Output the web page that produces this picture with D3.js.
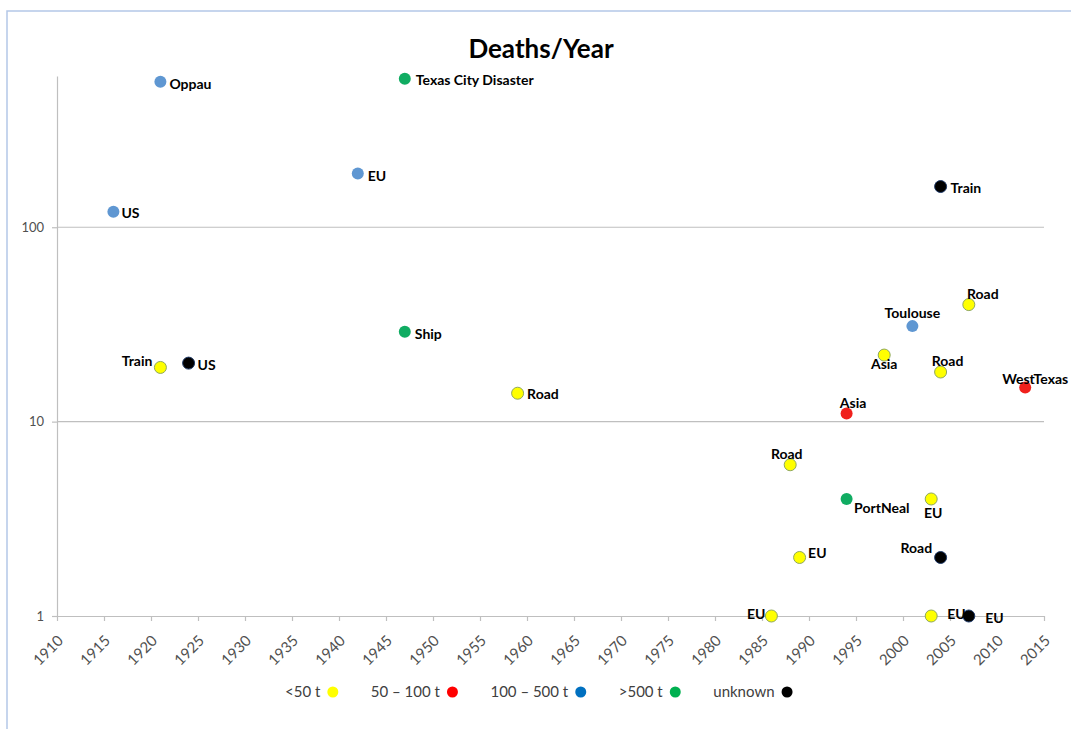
<!DOCTYPE html>
<html>
<head>
<meta charset="utf-8">
<script src="https://cdn.jsdelivr.net/npm/d3@7"></script>
<style>
  body { margin: 0; background: #fff; }
  text { font-family: "Lato", "DejaVu Sans", sans-serif; }
</style>
</head>
<body>
<div id="chart"></div>
<script>
// ---- data ----
const years  = [1916, 1921, 1942, 1947, 2004, 1921, 1924, 1947, 1959, 2001, 2007, 1998,
                2004, 2013, 1994, 1988, 1994, 2003, 1989, 2004, 1986, 2003, 2007];
const deaths = [120, 561, 189, 581, 162, 19, 20, 29, 14, 31, 40, 22,
                18, 15, 11, 6, 4, 4, 2, 2, 1, 1, 1];
const sizeClass = ["100-500", "100-500", "100-500", ">500", "unknown", "<50", "unknown", ">500",
                   "<50", "100-500", "<50", "<50", "<50", "50-100", "50-100", "<50", ">500",
                   "<50", "<50", "unknown", "<50", "<50", "unknown"];
const names  = ["US", "Oppau", "EU", "Texas City Disaster", "Train", "Train", "US", "Ship",
                "Road", "Toulouse", "Road", "Asia", "Road", "WestTexas", "Asia", "Road",
                "PortNeal", "EU", "EU", "Road", "EU", "EU", "EU"];

const legendKeys   = ["<50", "50-100", "100-500", ">500", "unknown"];
const legendLabels = ["<50 t", "50 \u2013 100 t", "100 \u2013 500 t", ">500 t", "unknown"];
const xTicks = d3.range(1910, 2016, 5);
const yTicks = [1, 10, 100];

// ---- layout ----
const svgWidth = 1071;
const svgHeight = 729;

// label placement next to each dot: [dx, dy, anchor]
const labelPlace = [
  [8, 1, "start"], [9, 2, "start"], [10, 2, "start"], [11, 1, "start"], [10, 1, "start"],
  [-8, -6, "end"], [9, 1.5, "start"], [10, 2, "start"], [9.5, 1, "start"], [0, -13, "middle"],
  [14, -11, "middle"], [0, 9, "middle"], [7, -11, "middle"], [10, -8.5, "middle"],
  [6.5, -10.5, "middle"], [-3.5, -10.5, "middle"], [7.5, 8.5, "start"], [2, 14, "middle"],
  [8.5, -5, "start"], [-8.5, -9.5, "end"], [-6, -2, "end"], [16, -2, "start"], [16.5, 1.5, "start"]
];

// dot styles per size class
const fills   = { "<50": "#ffff00", "50-100": "#f0201c", "100-500": "#5f97d2", ">500": "#10ac62", "unknown": "#000000" };
const strokes = { "<50": "#8fa85c", "50-100": "none", "100-500": "none", ">500": "none", "unknown": "#1f3a68" };
const legendFills = { "<50": "#ffff00", "50-100": "#ff0000", "100-500": "#0070c0", ">500": "#00b050", "unknown": "#000000" };

const svg = d3.select("#chart")
  .append("svg")
  .attr("width", svgWidth)
  .attr("height", svgHeight);

// outer chart frame
svg.append("rect")
  .attr("x", 7)
  .attr("y", 11)
  .attr("width", 1200)
  .attr("height", 900)
  .attr("fill", "none")
  .attr("stroke", "#b4c7e7")
  .attr("stroke-width", 1.5);

// scales
const x = d3.scaleLinear()
  .domain([1910, 2015])
  .range([57, 1044]);

const y = d3.scaleLog()
  .domain([1, 600])
  .range([616, 76]);

// gridlines
svg.append("g")
  .selectAll("line")
  .data([10, 100])
  .enter()
  .append("line")
  .attr("x1", x(1910))
  .attr("x2", x(2015))
  .attr("y1", d => y(d))
  .attr("y2", d => y(d))
  .attr("stroke", "#bfbfbf")
  .attr("stroke-width", 1.2);

// y axis
const yAxis = svg.append("g")
  .attr("transform", `translate(${x(1910)}, 0)`)
  .call(d3.axisLeft(y).tickValues(yTicks).tickFormat(d3.format("d")).tickSize(5).tickSizeOuter(0).tickPadding(8));

// x axis
const xAxis = svg.append("g")
  .attr("transform", `translate(0, ${y(1)})`)
  .call(d3.axisBottom(x).tickValues(xTicks).tickFormat(d3.format("d")).tickSize(5).tickSizeOuter(0));

[yAxis, xAxis].forEach(ax => {
  ax.attr("font-family", null).attr("font-size", null);
  ax.select(".domain").attr("stroke", "#bfbfbf").attr("stroke-width", 1.2);
  ax.selectAll(".tick line").attr("stroke", "#bfbfbf").attr("stroke-width", 1.2);
  ax.selectAll(".tick text")
    .attr("fill", "#505050")
    .style("font-size", "13px");
});

xAxis.selectAll(".tick text")
  .attr("y", 0)
  .attr("dy", "0.35em")
  .attr("text-anchor", "end")
  .style("font-size", "15px")
  .attr("transform", "translate(3, 22) rotate(-45)");

// title
svg.append("text")
  .attr("x", 541)
  .attr("y", 58)
  .attr("text-anchor", "middle")
  .style("font-size", "26px")
  .style("font-weight", "bold")
  .attr("fill", "#000")
  .text("Deaths/Year");

// points
const points = years.map((yr, i) => ({
  year: yr, deaths: deaths[i], cls: sizeClass[i], name: names[i], place: labelPlace[i]
}));

svg.append("g")
  .selectAll("circle")
  .data(points)
  .enter()
  .append("circle")
  .attr("cx", d => x(d.year))
  .attr("cy", d => y(d.deaths))
  .attr("r", 6)
  .attr("fill", d => fills[d.cls])
  .attr("stroke", d => strokes[d.cls])
  .attr("stroke-width", 1);

svg.append("g")
  .selectAll("text")
  .data(points)
  .enter()
  .append("text")
  .attr("x", d => x(d.year) + d.place[0])
  .attr("y", d => y(d.deaths) + d.place[1])
  .attr("dy", "0.36em")
  .attr("text-anchor", d => d.place[2])
  .style("font-size", "14px")
  .style("font-weight", "bold")
  .attr("fill", "#000")
  .text(d => d.name);

// legend
const legend = svg.append("g").attr("transform", "translate(0, 692)");
let lx = 285;
legendKeys.forEach((k, i) => {
  const t = legend.append("text")
    .attr("x", lx)
    .attr("y", 0)
    .attr("dy", "0.36em")
    .style("font-size", "15px")
    .attr("fill", "#404040")
    .text(legendLabels[i]);
  const w = t.node().getComputedTextLength();
  const cx = lx + w + 12.5;
  legend.append("circle")
    .attr("cx", cx)
    .attr("cy", 0)
    .attr("r", 5.5)
    .attr("fill", legendFills[k]);
  lx = cx + 38;
});
</script>
</body>
</html>
